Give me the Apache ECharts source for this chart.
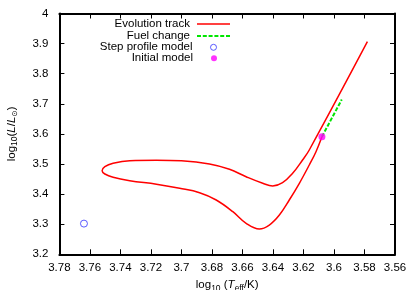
<!DOCTYPE html>
<html>
<head>
<meta charset="utf-8">
<script src="https://cdn.jsdelivr.net/npm/echarts@6/dist/echarts.min.js"></script>
<style>
html,body{margin:0;padding:0;background:#fff;}
#c{width:415px;height:290px;}
</style>
</head>
<body>
<div id="c"></div>
<script>
// Evolution track (log10 Teff, log10 L/Lsun), in order starting at the initial model
var trackT = [3.6079, 3.6118, 3.6162, 3.6227, 3.6293, 3.6358, 3.6424, 3.6489, 3.6576, 3.6663, 3.6772, 3.6881, 3.7012, 3.7164, 3.7339, 3.7448, 3.7502, 3.7520, 3.7502, 3.7448, 3.7339, 3.7164, 3.7000, 3.6816, 3.6685, 3.6576, 3.6467, 3.6402, 3.6337, 3.6271, 3.6206, 3.6162, 3.5781];
var trackL = [3.5907, 3.5409, 3.4967, 3.4359, 3.3804, 3.3306, 3.2973, 3.2841, 3.3030, 3.3415, 3.3804, 3.4047, 3.4193, 3.4326, 3.4445, 3.4558, 3.4668, 3.4777, 3.4910, 3.5023, 3.5110, 3.5125, 3.5105, 3.5000, 3.4824, 3.4578, 3.4359, 3.4269, 3.4379, 3.4691, 3.5133, 3.5465, 3.9063];
// Fuel change segment
var fuelT = [3.6079, 3.5949];
var fuelL = [3.5907, 3.7140];
// Single models
var stepT = [3.7639];
var stepL = [3.3020];
var initT = [3.6079];
var initL = [3.5907];
// Axis ticks
var xMin = 3.56, xMax = 3.78, xStep = 0.02;
var yMin = 3.2, yMax = 4.0, yStep = 0.1;
var seriesNames = ['Evolution track', 'Fuel change', 'Step profile model', 'Initial model'];

function zip(a, b) { return a.map(function (v, i) { return [v, b[i]]; }); }
function fmt(v) { return String(parseFloat(v.toFixed(2))); }

var FONT = 'Liberation Sans, Arial, Helvetica, sans-serif';
var txt = { color: '#000', fontFamily: FONT, fontSize: 11.5 };

var tickStyle = { show: true, inside: true, length: 5, lineStyle: { color: '#000', width: 1 } };
var lineStyleAx = { show: true, lineStyle: { color: '#000', width: 2 } };

var RED = '#ff0000', GREEN = '#00e600', BLUE = '#3333ff', MAGENTA = '#ff00ff';
var solidIcon = 'path://M0,0h33v1.4h-33z';
var dashIcon = 'path://M0,0h4v2h-4zM5.8,0h4v2h-4zM11.6,0h4v2h-4zM17.4,0h4v2h-4zM23.2,0h4v2h-4zM29,0h4v2h-4z';

function legendFor(idx, top, icon, isLine, extraStyle) {
  var item = { name: seriesNames[idx], icon: icon };
  if (extraStyle) item.itemStyle = extraStyle;
  return {
    data: [item],
    orient: 'vertical',
    align: 'right',
    right: isLine ? 185 : 198,
    top: top,
    padding: 0,
    itemWidth: isLine ? 33 : 6,
    itemHeight: 6,
    selectedMode: false,
    textStyle: { color: '#000', fontFamily: FONT, fontSize: 11.5, lineHeight: 12, padding: [0, isLine ? 2 : 13, 0, 0] }
  };
}

var chart = echarts.init(document.getElementById('c'), null, { renderer: 'canvas' });
chart.setOption({
  animation: false,
  backgroundColor: '#fff',
  grid: { left: 59.4, right: 20, top: 13.5, bottom: 35.7, containLabel: false, outerBoundsMode: 'none' },
  legend: [
    legendFor(0, 18, solidIcon, true, { color: RED }),
    legendFor(1, 30, dashIcon, true, { color: GREEN }),
    legendFor(2, 41.3, 'circle', false, { color: 'rgba(255,255,255,0)', borderColor: BLUE, borderWidth: 1 }),
    legendFor(3, 52.3, 'circle', false, { color: MAGENTA })
  ],
  xAxis: [{
    type: 'value', min: xMin, max: xMax, interval: xStep, inverse: true, position: 'bottom',
    axisLine: lineStyleAx, axisTick: tickStyle, splitLine: { show: false },
    axisLabel: Object.assign({ margin: 8, formatter: fmt }, txt),
    name: '{n|log}{s|10}{n| (}{i|T}{s|eff}{n|/K)}',
    nameLocation: 'middle', nameGap: 19,
    nameTextStyle: {
      color: '#000', fontFamily: FONT, fontSize: 11.5,
      rich: {
        n: { fontFamily: FONT, fontSize: 11.5, color: '#000' },
        i: { fontFamily: FONT, fontSize: 11.5, fontStyle: 'italic', color: '#000' },
        s: { fontFamily: FONT, fontSize: 8.5, color: '#000', padding: [6, 0, 0, 0] }
      }
    }
  }, {
    type: 'value', min: xMin, max: xMax, interval: xStep, inverse: true, position: 'top',
    axisLine: lineStyleAx, axisTick: tickStyle, axisLabel: { show: false }, splitLine: { show: false }
  }],
  yAxis: [{
    type: 'value', min: yMin, max: yMax, interval: yStep, position: 'left',
    axisLine: lineStyleAx, axisTick: tickStyle, splitLine: { show: false },
    axisLabel: Object.assign({ margin: 11, formatter: fmt }, txt),
    name: '{n|log}{s|10}{n|(}{i|L}{n|/}{i|L}{o|⊙}{n|)}',
    nameLocation: 'middle', nameGap: 40, nameRotate: 90,
    nameTextStyle: {
      color: '#000', fontFamily: FONT, fontSize: 11.5,
      rich: {
        n: { fontFamily: FONT, fontSize: 11.5, color: '#000' },
        i: { fontFamily: FONT, fontSize: 11.5, fontStyle: 'italic', color: '#000' },
        s: { fontFamily: FONT, fontSize: 8.5, color: '#000', padding: [6, 0, 0, 0] },
        o: { fontFamily: 'DejaVu Sans, sans-serif', fontSize: 7.5, color: '#000', padding: [7, 0, 0, 0] }
      }
    }
  }, {
    type: 'value', min: yMin, max: yMax, interval: yStep, position: 'right',
    axisLine: lineStyleAx, axisTick: tickStyle, axisLabel: { show: false }, splitLine: { show: false }
  }],
  series: [{
    name: seriesNames[0], type: 'line', data: zip(trackT, trackL),
    xAxisIndex: 0, yAxisIndex: 0, showSymbol: false, symbol: 'none', smooth: 0.4,
    lineStyle: { color: RED, width: 1.5 }, itemStyle: { color: RED }, z: 2
  }, {
    name: seriesNames[1], type: 'line', data: zip(fuelT, fuelL),
    xAxisIndex: 0, yAxisIndex: 0, showSymbol: false, symbol: 'none',
    lineStyle: { color: GREEN, width: 2, type: [4, 1.8] }, itemStyle: { color: GREEN }, z: 3
  }, {
    name: seriesNames[2], type: 'scatter', data: zip(stepT, stepL),
    xAxisIndex: 0, yAxisIndex: 0, symbol: 'circle', symbolSize: 7,
    itemStyle: { color: 'rgba(255,255,255,0)', borderColor: BLUE, borderWidth: 1 }, z: 4
  }, {
    name: seriesNames[3], type: 'scatter', data: zip(initT, initL),
    xAxisIndex: 0, yAxisIndex: 0, symbol: 'circle', symbolSize: 7,
    itemStyle: { color: MAGENTA }, z: 5
  }]
});
</script>
</body>
</html>
